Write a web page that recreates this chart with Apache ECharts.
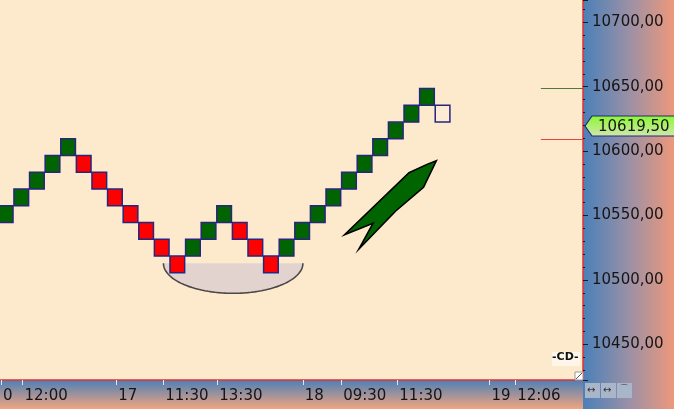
<!DOCTYPE html>
<html><head><meta charset="utf-8">
<script src="https://cdn.jsdelivr.net/npm/echarts@6/dist/echarts.min.js"></script>
<style>html,body{margin:0;padding:0;background:#fde9cc;overflow:hidden}#c{width:674px;height:409px}</style>
</head><body><div id="c"></div>
<script>
// ---- data ----
const brickX = [0,1,2,3,4,5,6,7,8,9,10,11,12,13,14,15,16,17,18,19,20,21,22,23,24,25,26,27,28];
const brickOpen = [10544.5,10557.5,10570.5,10583.5,10596.5,10596.5,10583.5,10570.5,10557.5,10544.5,10531.5,10518.5,10518.5,10531.5,10544.5,10544.5,10531.5,10518.5,10518.5,10531.5,10544.5,10557.5,10570.5,10583.5,10596.5,10609.5,10622.5,10635.5,10635.5];
const brickClose = [10557.5,10570.5,10583.5,10596.5,10609.5,10583.5,10570.5,10557.5,10544.5,10531.5,10518.5,10505.5,10531.5,10544.5,10557.5,10531.5,10518.5,10505.5,10531.5,10544.5,10557.5,10570.5,10583.5,10596.5,10609.5,10622.5,10635.5,10648.5,10622.5];
const brickKind = ['up','up','up','up','up','down','down','down','down','down','down','down','up','up','up','down','down','down','up','up','up','up','up','up','up','up','up','up','forming'];
const xTickValues = [-0.3, 1.08, 7.08, 10.1, 13.56, 19.04, 21.5, 25.1, 31.0, 32.66];
const xTickLabels = ['0','12:00','17','11:30','13:30','18','09:30','11:30','19','12:06'];
const lastPrice = 10619.5;
const lastPriceText = '10619,50';
const levelLinePrices = [10648.5, 10609.5];
const levelLineColors = ['#4d7a3a', '#e8433a'];
const levelLineFrom = 34.3;
const bowlShape = [14.58, 10512.9, 4.47, 10489.6]; // centre x, top price, half width, bottom price
const arrowX = [27.6, 27.0, 25.85, 21.72, 23.54, 22.64, 25.0, 26.78];
const arrowY = [10592.5, 10589.7, 10583.2, 10535.1, 10543.9, 10524.0, 10553.5, 10571.9];
const xMin = -0.35, xMax = 37.0, yMin = 10422.3, yMax = 10717.3;

const kindCode = {up: 1, down: -1, forming: 0};
const brickData = brickX.map((x, i) => [x, brickOpen[i], brickClose[i], kindCode[brickKind[i]]]);
const G = echarts.graphic;
const FONT = 'DejaVu Sans';

const chart = echarts.init(document.getElementById('c'), null, {renderer: 'canvas'});
chart.setOption({
  animation: false,
  backgroundColor: 'transparent',
  textStyle: {fontFamily: FONT},
  graphic: [
    {type: 'rect', z: -10, shape: {x: 583, y: 0, width: 91, height: 409},
      style: {fill: new G.LinearGradient(0, 0, 1, 0, [{offset: 0, color: '#4a80b8'}, {offset: 0.5, color: '#9a90a6'}, {offset: 1, color: '#ee987b'}])}},
    {type: 'rect', z: -10, shape: {x: 0, y: 380, width: 583, height: 29},
      style: {fill: new G.LinearGradient(0, 0, 0, 1, [{offset: 0, color: '#4c80b7'}, {offset: 1, color: '#f2a47f'}])}},
    {type: 'rect', z: -10, shape: {x: 0, y: 0, width: 583, height: 380}, style: {fill: '#fde9cc'}},
    {type: 'rect', z: 10, shape: {x: 585, y: 383, width: 15, height: 15}, style: {fill: '#a9b5c9'}},
    {type: 'rect', z: 10, shape: {x: 601, y: 383, width: 15, height: 15}, style: {fill: '#a9b5c9'}},
    {type: 'rect', z: 10, shape: {x: 617, y: 383, width: 15, height: 15}, style: {fill: '#a9b5c9'}},
    {type: 'text', z: 11, x: 587, y: 385, style: {text: '↔', font: '10px DejaVu Sans', fill: '#333'}},
    {type: 'text', z: 11, x: 603, y: 385, style: {text: '↔', font: '10px DejaVu Sans', fill: '#333'}},
    {type: 'text', z: 11, x: 619, y: 384, style: {text: '⌒', font: '10px DejaVu Sans', fill: '#333'}},
    {type: 'rect', z: 10, shape: {x: 552, y: 352, width: 28, height: 14}, style: {fill: '#fff6ea'}},
    {type: 'text', z: 11, x: 552, y: 352, style: {text: '-CD-', font: 'bold 11px DejaVu Sans', fill: '#111'}},
    {type: 'rect', z: 10, shape: {x: 575, y: 372, width: 8, height: 8}, style: {fill: '#ffffff', stroke: '#999', lineWidth: 1}},
    {type: 'line', z: 11, shape: {x1: 576, y1: 379, x2: 582, y2: 373}, style: {stroke: '#555', lineWidth: 1}}
  ],
  grid: {left: 0, top: 0, right: 91, bottom: 29, containLabel: false},
  xAxis: {
    type: 'value', min: xMin, max: xMax,
    splitLine: {show: false},
    axisLine: {show: true, onZero: false, lineStyle: {color: '#e53030', width: 1.5}},
    axisTick: {show: true, customValues: xTickValues, length: 5, inside: false, lineStyle: {color: '#e6e6ee', width: 1}},
    axisLabel: {
      customValues: xTickValues, align: 'left', padding: [0, 0, 0, 2], margin: 9,
      color: '#151515', fontSize: 15, fontFamily: FONT,
      formatter: v => { const i = xTickValues.indexOf(v); return i >= 0 ? xTickLabels[i] : ''; }
    }
  },
  yAxis: {
    type: 'value', position: 'right', min: yMin, max: yMax, splitNumber: 5, scale: true,
    splitLine: {show: false},
    axisLine: {show: true, onZero: false, lineStyle: {color: '#e53030', width: 1.5}},
    axisTick: {show: true, length: 5, lineStyle: {color: '#1a1a1a'}},
    minorTick: {show: true, splitNumber: 5, length: 2, lineStyle: {color: '#1a1a1a'}},
    axisLabel: {
      showMinLabel: false, showMaxLabel: false, margin: 9,
      color: '#151515', fontSize: 15, fontFamily: FONT,
      formatter: v => v.toFixed(2).replace('.', ',')
    }
  },
  series: [
    {
      type: 'custom', z: 1, silent: true,
      data: [bowlShape],
      renderItem: (params, api) => {
        const cx = api.value(0), top = api.value(1), hw = api.value(2), bot = api.value(3);
        const c = api.coord([cx, top]);
        const l = api.coord([cx - hw, top]);
        const b = api.coord([cx, bot]);
        const rx = c[0] - l[0], ry = b[1] - c[1];
        const pts = [];
        for (let k = 0; k <= 60; k++) {
          const t = Math.PI * k / 60;
          pts.push([c[0] - rx * Math.cos(t), c[1] + ry * Math.sin(t)]);
        }
        return {type: 'group', children: [
          {type: 'polygon', shape: {points: pts}, style: {fill: '#e3d3cf', stroke: 'none'}},
          {type: 'polyline', shape: {points: pts}, style: {stroke: '#4c4848', lineWidth: 1.6, fill: 'none'}}
        ]};
      }
    },
    {
      type: 'custom', z: 2, silent: true,
      data: brickData,
      renderItem: (params, api) => {
        const x = api.value(0), o = api.value(1), cl = api.value(2), k = api.value(3);
        const p1 = api.coord([x - 0.47, Math.max(o, cl)]);
        const p2 = api.coord([x + 0.47, Math.min(o, cl)]);
        return {type: 'rect', shape: {x: p1[0], y: p1[1], width: p2[0] - p1[0], height: p2[1] - p1[1]},
          style: {fill: k === 1 ? '#006400' : (k === -1 ? '#ff0000' : 'rgba(255,255,255,0.15)'), stroke: '#26267e', lineWidth: 1.5}};
      },
      markLine: {
        silent: true, symbol: 'none', label: {show: false},
        data: levelLinePrices.map((p, i) => [
          {coord: [levelLineFrom, p], lineStyle: {color: levelLineColors[i], width: 1.2, type: 'solid'}},
          {coord: [xMax, p]}
        ])
      }
    },
    {
      type: 'custom', z: 3, silent: true,
      data: [[0]],
      renderItem: (params, api) => {
        const pts = arrowX.map((x, i) => api.coord([x, arrowY[i]]));
        return {type: 'polygon', shape: {points: pts}, style: {fill: '#006400', stroke: '#000', lineWidth: 1.6, lineJoin: 'miter'}};
      }
    },
    {
      type: 'custom', z: 5, silent: true, clip: false,
      data: [[xMax, lastPrice]],
      renderItem: (params, api) => {
        const p = api.coord([api.value(0), api.value(1)]);
        const x0 = p[0] + 2, y = p[1];
        return {type: 'group', children: [
          {type: 'polygon', shape: {points: [[x0, y], [x0 + 7, y - 10], [x0 + 100, y - 10], [x0 + 100, y + 10], [x0 + 7, y + 10]]},
            style: {fill: new G.LinearGradient(0, 0, 0, 1, [{offset: 0, color: '#8af82c'}, {offset: 1, color: '#d2e6b0'}]), stroke: '#1f2a7a', lineWidth: 1.2}},
          {type: 'text', x: x0 + 13, y: y + 1, style: {text: lastPriceText, font: '15px DejaVu Sans', fill: '#151515', verticalAlign: 'middle', align: 'left'}}
        ]};
      }
    }
  ]
});
</script></body></html>
